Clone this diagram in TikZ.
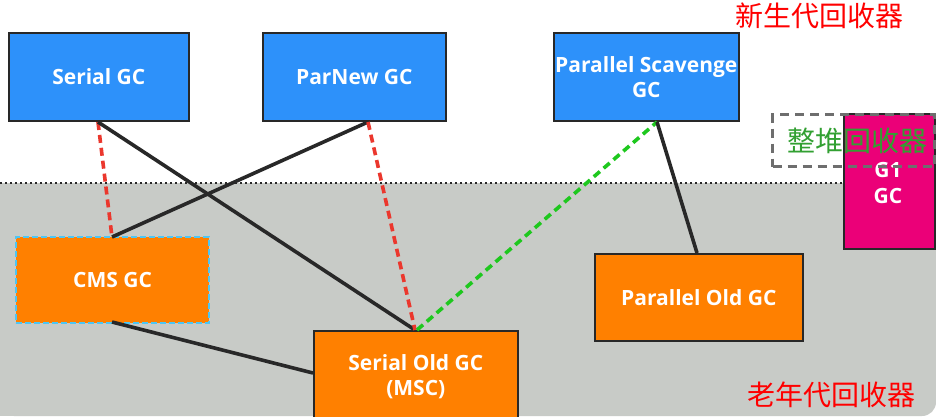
\documentclass[tikz,border=0pt]{standalone}
\usepackage{fontspec}
\setmainfont{Open Sans}
\newfontfamily\cjk{Noto Sans CJK SC}
\definecolor{bgray}{RGB}{200,203,199}
\definecolor{gcblue}{RGB}{45,145,250}
\definecolor{gcorange}{RGB}{255,128,0}
\definecolor{gcpink}{RGB}{235,0,120}
\definecolor{lblack}{RGB}{40,40,40}
\definecolor{lred}{RGB}{235,55,45}
\definecolor{lgreen}{RGB}{30,200,30}
\definecolor{cjkgreen}{RGB}{50,160,50}
\definecolor{dgray}{RGB}{110,110,110}
\begin{document}
\begin{tikzpicture}[x=1pt,y=-1pt,
  gcbox/.style={draw=lblack, line width=1.6pt, minimum width=#1, minimum height=88pt, inner sep=0pt,
    text=white, font=\fontsize{21}{25}\selectfont\bfseries, align=center, anchor=north west},
  young/.style={gcbox=#1, fill=gcblue},
  old/.style={gcbox=#1, fill=gcorange},
  solidcon/.style={draw=lblack, line width=3.6pt},
  redcon/.style={draw=lred, line width=3.6pt, dash pattern=on 8pt off 5pt},
  greencon/.style={draw=lgreen, line width=3.6pt, dash pattern=on 8pt off 5pt},
  cjklabel/.style={font=\cjk\fontsize{28}{30}\selectfont}
]
\useasboundingbox (0,0) rectangle (936,416);
\fill[white] (0,0) rectangle (936,416);
\fill[bgray, rounded corners=14pt] (0,183) -- (936,183) -- (936,416) -- (0,416) -- cycle;
\fill[bgray] (0,183) rectangle (900,416);
\draw[lblack, line width=1.8pt, dash pattern=on 2pt off 3pt] (0,183) -- (936,183);

\node[young=180pt] (serial) at (8,32) {Serial GC};
\node[young=183pt] (parnew) at (262,32) {ParNew GC};
\node[young=185pt] (ps) at (553,32) {Parallel Scavenge\\GC};
\node[gcbox=91pt, minimum height=135pt, fill=gcpink, anchor=north west] (g1) at (843,113) {};
\node[text=white, font=\fontsize{21}{26}\selectfont\bfseries, align=center] (g1t) at (888,183) {G1\\GC};

\node[old=193pt, minimum height=86pt, draw=cyan!70!white, line width=2.2pt, dash pattern=on 6pt off 3pt] (cms) at (15,236) {CMS GC};
\node[old=204pt, minimum height=92pt] (sold) at (313,330) {Serial Old GC\\(MSC)};
\node[old=208pt, minimum height=87pt] (pold) at (594,253) {Parallel Old GC};

\coordinate (sb) at (98,122);
\coordinate (pb) at (368,122);
\coordinate (psb) at (657,122);
\coordinate (cmst) at (112,237);
\coordinate (cmsb) at (112,322);
\coordinate (soldt) at (415,330);
\coordinate (soldl) at (313,373);
\coordinate (poldt) at (697,253);

\draw[redcon] (sb) -- (cmst);
\draw[solidcon] (sb) -- (soldt);
\draw[solidcon] (pb) -- (cmst);
\draw[redcon] (pb) -- (soldt);
\draw[greencon] ([xshift=2pt]soldt) -- (psb);
\draw[solidcon] (psb) -- (poldt);
\draw[solidcon] (cmsb) -- (soldl);

\node[draw=dgray, line width=3.2pt, dash pattern=on 9pt off 6pt, minimum width=162pt, minimum height=52pt, anchor=north west, inner sep=0pt] (whole) at (771,113) {};
\node[cjklabel, text=cjkgreen] (wholet) at (857,141) {整堆回收器};

\node[cjklabel, text=red] (young) at (819,16) {新生代回收器};
\node[cjklabel, text=red] (oldl) at (831,395) {老年代回收器};
\end{tikzpicture}
\end{document}
